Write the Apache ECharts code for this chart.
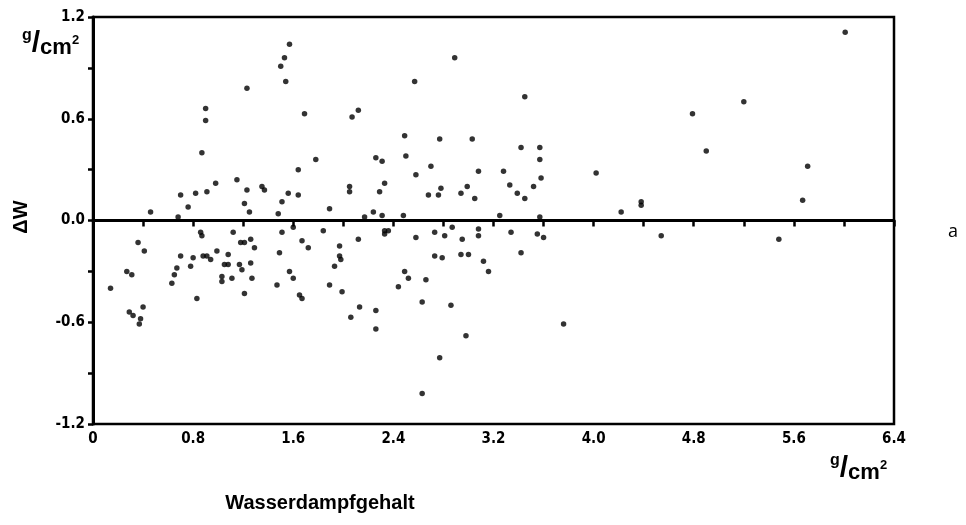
<!DOCTYPE html>
<html>
<head>
<meta charset="utf-8">
<title>ΔW – Wasserdampfgehalt</title>
<script src="https://cdn.jsdelivr.net/npm/echarts@6/dist/echarts.min.js"></script>
<style>
  html, body { margin: 0; padding: 0; background: #fff; }
  #chart { width: 966px; height: 525px; }
</style>
</head>
<body>
<div id="chart"></div>
<script>
// Water vapour content (g/cm²) of each measurement
const waterVapour = [
  1.23, 0.90, 0.90, 0.87, 0.98, 1.15, 1.23, 0.91, 0.82, 0.70, 0.76, 0.46, 0.68, 1.21, 1.25,
  0.36, 0.41, 0.27, 0.31, 0.14, 0.40, 0.29, 0.32, 0.38, 0.37, 0.70, 0.67, 0.65, 0.63, 0.78,
  0.80, 0.86, 0.87, 0.88, 0.91, 0.94, 0.83, 0.99, 1.12, 1.08, 1.05, 1.08, 1.03, 1.03, 1.11,
  1.17, 1.19, 1.18, 1.21, 1.26, 1.21, 1.26, 1.27, 1.29,
  1.57, 1.53, 1.50, 1.54, 1.69, 2.12, 2.07, 2.49, 2.50, 1.78, 1.64, 2.26, 2.31, 2.33, 2.29,
  2.05, 2.05, 1.35, 1.37, 1.56, 1.64, 1.51, 1.89, 1.48, 2.24, 2.31, 2.48, 2.17,
  1.60, 1.51, 1.84, 1.67, 1.72, 1.49, 1.57, 1.60, 1.47, 1.65, 1.67, 1.97, 1.97, 1.98, 1.93,
  1.89, 1.99, 2.12, 2.33, 2.36, 2.33, 2.13, 2.06, 2.26, 2.26, 2.49, 2.52, 2.44,
  2.89, 2.57, 3.45, 2.77, 3.03, 3.42, 3.57, 3.57, 3.58, 3.52, 2.70, 2.58, 3.08, 3.28, 3.33,
  2.78, 2.99, 2.68, 2.76, 2.94, 3.05, 3.39, 3.45, 3.25, 3.57,
  2.58, 2.73, 2.81, 2.87, 2.95, 3.08, 3.08, 3.34, 3.55, 3.60, 2.73, 2.79, 2.94, 3.00, 3.12,
  3.16, 3.42, 2.66, 2.63, 2.86, 2.98, 2.77, 2.63, 3.76,
  4.79, 4.90, 4.02, 4.38, 4.38, 4.22, 4.54, 6.01, 5.20, 5.71, 5.67, 5.48
];

// Deviation ΔW (g/cm²) belonging to each water vapour value
const deltaW = [
  0.78, 0.66, 0.59, 0.40, 0.22, 0.24, 0.18, 0.17, 0.16, 0.15, 0.08, 0.05, 0.02, 0.10, 0.05,
  -0.13, -0.18, -0.30, -0.32, -0.40, -0.51, -0.54, -0.56, -0.58, -0.61, -0.21, -0.28, -0.32, -0.37, -0.27,
  -0.22, -0.07, -0.09, -0.21, -0.21, -0.23, -0.46, -0.18, -0.07, -0.20, -0.26, -0.26, -0.33, -0.36, -0.34,
  -0.26, -0.29, -0.13, -0.13, -0.11, -0.43, -0.25, -0.34, -0.16,
  1.04, 0.96, 0.91, 0.82, 0.63, 0.65, 0.61, 0.50, 0.38, 0.36, 0.30, 0.37, 0.35, 0.22, 0.17,
  0.20, 0.17, 0.20, 0.18, 0.16, 0.15, 0.11, 0.07, 0.04, 0.05, 0.03, 0.03, 0.02,
  -0.04, -0.07, -0.06, -0.12, -0.16, -0.19, -0.30, -0.34, -0.38, -0.44, -0.46, -0.15, -0.21, -0.23, -0.27,
  -0.38, -0.42, -0.11, -0.06, -0.06, -0.08, -0.51, -0.57, -0.53, -0.64, -0.30, -0.34, -0.39,
  0.96, 0.82, 0.73, 0.48, 0.48, 0.43, 0.43, 0.36, 0.25, 0.20, 0.32, 0.27, 0.29, 0.29, 0.21,
  0.19, 0.20, 0.15, 0.15, 0.16, 0.13, 0.16, 0.13, 0.03, 0.02,
  -0.10, -0.07, -0.09, -0.04, -0.11, -0.05, -0.09, -0.07, -0.08, -0.10, -0.21, -0.22, -0.20, -0.20, -0.24,
  -0.30, -0.19, -0.35, -0.48, -0.50, -0.68, -0.81, -1.02, -0.61,
  0.63, 0.41, 0.28, 0.11, 0.09, 0.05, -0.09, 1.11, 0.70, 0.32, 0.12, -0.11
];

// Axis ranges and tick steps
const xRange = [0, 6.4];
const xStep = 0.4;
const yRange = [-1.2, 1.2];
const yStep = 0.3;

const points = waterVapour.map((x, i) => [x, deltaW[i]]);

const tickFont = {
  fontFamily: '"Liberation Sans Narrow", "DejaVu Sans Condensed", Arial, sans-serif',
  fontWeight: 'bold',
  fontSize: 15,
  color: '#000'
};

// "g/cm²" unit mark with raised g and a heavy slash
function unitLabel(left, top) {
  const f = 'Arial, "Liberation Sans", sans-serif';
  return {
    type: 'text',
    left: left,
    top: top,
    style: {
      text: '{g|g}{s|/}{c|cm}{e|2}',
      rich: {
        g: { fontSize: 16, fontWeight: 'bold', fontFamily: f, verticalAlign: 'top', padding: [0, 0, 12, 0] },
        s: { fontSize: 30, fontWeight: 'bold', fontFamily: f },
        c: { fontSize: 22, fontWeight: 'bold', fontFamily: f, padding: [9, 0, 0, 0] },
        e: { fontSize: 13, fontWeight: 'bold', fontFamily: f, padding: [0, 0, 6, 0] }
      },
      fill: '#000'
    }
  };
}

const chart = echarts.init(document.getElementById('chart'));
chart.setOption({
  backgroundColor: '#fff',
  animation: false,
  grid: {
    left: 93, right: 72, top: 17, bottom: 101,
    show: true,
    borderColor: '#000',
    borderWidth: 2.5,
    backgroundColor: 'transparent'
  },
  xAxis: {
    type: 'value',
    min: xRange[0], max: xRange[1], interval: xStep,
    axisLine: { show: true, lineStyle: { color: '#000', width: 3 } },
    axisTick: { show: true, inside: false, length: 6, lineStyle: { color: '#000', width: 2.5 } },
    splitLine: { show: false },
    axisLabel: Object.assign({}, tickFont, {
      margin: 8,
      formatter: v => {
        const k = Math.round(v / xStep);
        if (k % 2 !== 0) return '';
        return v === 0 ? '0' : v.toFixed(1);
      }
    })
  },
  yAxis: {
    type: 'value',
    min: yRange[0], max: yRange[1], interval: yStep,
    axisLine: { show: true, lineStyle: { color: '#000', width: 3 } },
    axisTick: { show: true, inside: false, length: 5, lineStyle: { color: '#000', width: 2.5 } },
    splitLine: { show: false },
    axisLabel: Object.assign({}, tickFont, {
      margin: 8,
      formatter: v => {
        const k = Math.round(v / yStep);
        if (k % 2 !== 0) return '';
        return v.toFixed(1);
      }
    })
  },
  series: [{
    type: 'scatter',
    data: points,
    symbol: 'circle',
    symbolSize: 5.5,
    itemStyle: { color: '#000' },
    silent: true,
    markLine: {
      silent: true,
      symbol: 'none',
      label: { show: false },
      lineStyle: { color: '#000', width: 2.5, type: 'solid' },
      data: [{ yAxis: 0 }]
    }
  }],
  graphic: [
    {
      type: 'text',
      x: 320, y: 503,
      style: {
        text: 'Wasserdampfgehalt',
        font: 'bold 20px Arial, "Liberation Sans", sans-serif',
        fill: '#000',
        align: 'center',
        verticalAlign: 'middle'
      }
    },
    {
      type: 'text',
      x: 21, y: 217,
      rotation: Math.PI / 2,
      style: {
        text: 'ΔW',
        font: 'bold 20px Arial, "Liberation Sans", sans-serif',
        fill: '#000',
        align: 'center',
        verticalAlign: 'middle'
      }
    },
    {
      type: 'text',
      x: 953, y: 232,
      style: {
        text: 'a',
        font: '18px "Open Sans", Arial, sans-serif',
        fill: '#000',
        align: 'center',
        verticalAlign: 'middle'
      }
    },
    unitLabel(22, 28),
    unitLabel(830, 453)
  ]
});
</script>
</body>
</html>
